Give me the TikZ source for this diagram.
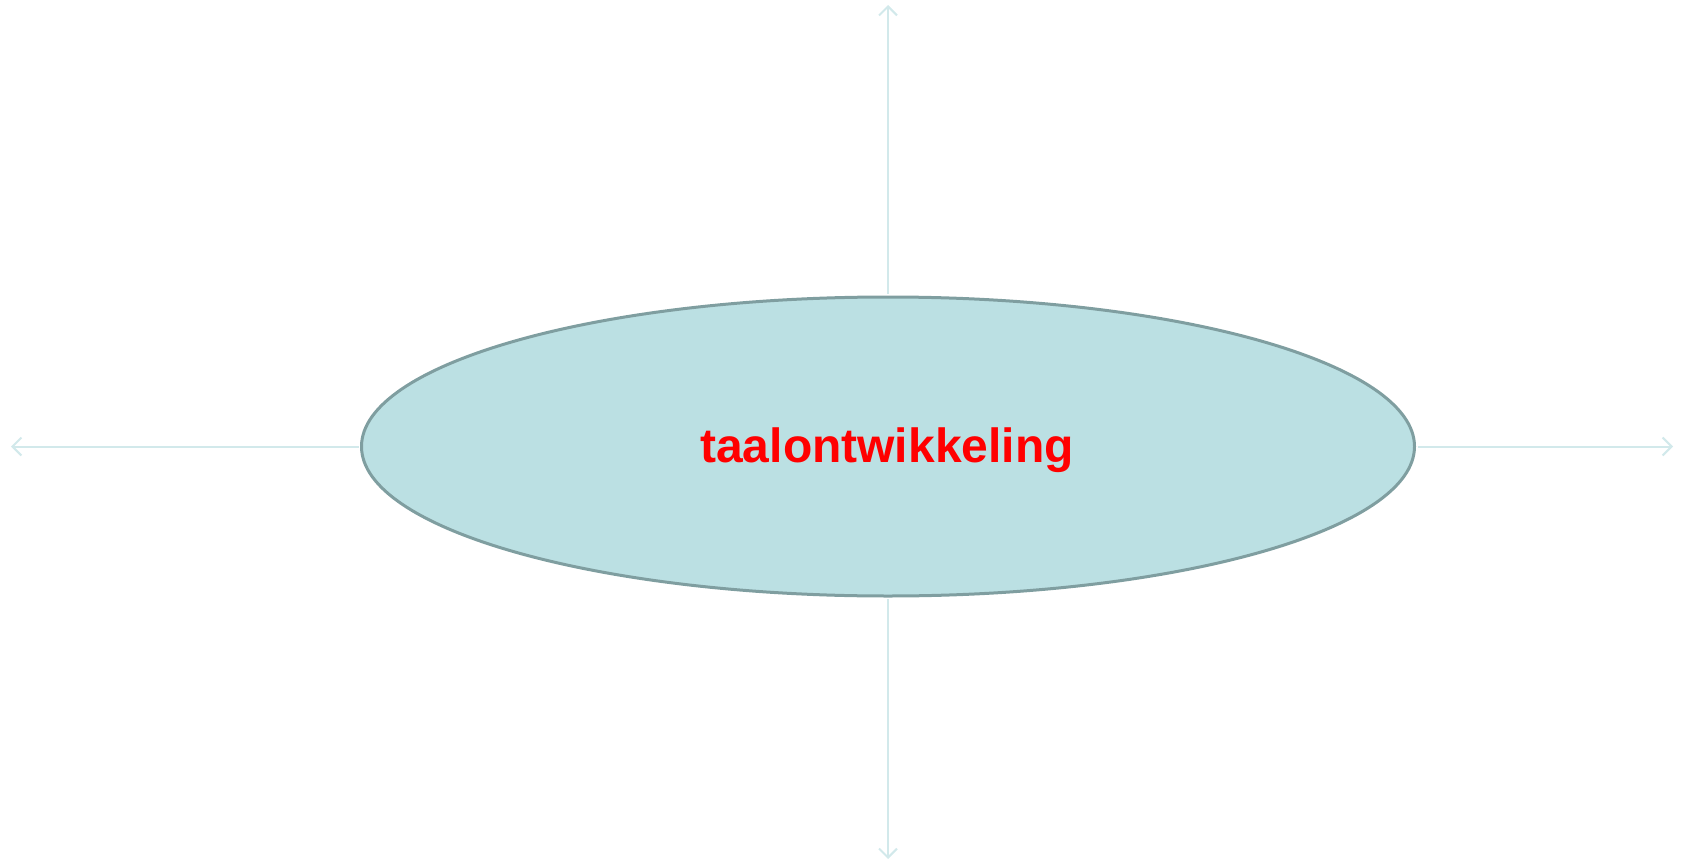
\documentclass[tikz,border=0pt]{standalone}
\usepackage{fontspec}
\setmainfont{Liberation Sans}
\usetikzlibrary{shapes.geometric,arrows.meta}
\definecolor{ellfill}{HTML}{BBE0E3}
\definecolor{elldraw}{HTML}{7F9EA0}
\definecolor{arrcol}{HTML}{D2E9EB}
\definecolor{txtred}{HTML}{FF0000}
\tikzset{
  mainell/.style={ellipse, draw=elldraw, line width=3pt, fill=ellfill,
    minimum width=1053pt, minimum height=299pt, inner sep=0pt},
  maintext/.style={font=\fontsize{48}{55}\selectfont\bfseries, text=txtred, inner sep=0pt},
  spoke/.style={draw=arrcol, line width=2pt, shorten <=1.5pt,
    -{Straight Barb[length=9pt,width=18pt,line width=2pt]}}
}
\begin{document}
\begin{tikzpicture}[x=1pt,y=-1pt]
\useasboundingbox (0,0) rectangle (1683,861);
\coordinate (up) at (888,5);
\coordinate (down) at (888,859);
\coordinate (left) at (11,446.5);
\coordinate (right) at (1673,446.5);
\node[mainell] (e) at (888,446.5) {};
\node[maintext] (t) at (887,450) {taalontwikkeling};
\draw[spoke] (e.north) -- (up);
\draw[spoke] (e.south) -- (down);
\draw[spoke] (e.west) -- (left);
\draw[spoke] (e.east) -- (right);
\end{tikzpicture}
\end{document}
